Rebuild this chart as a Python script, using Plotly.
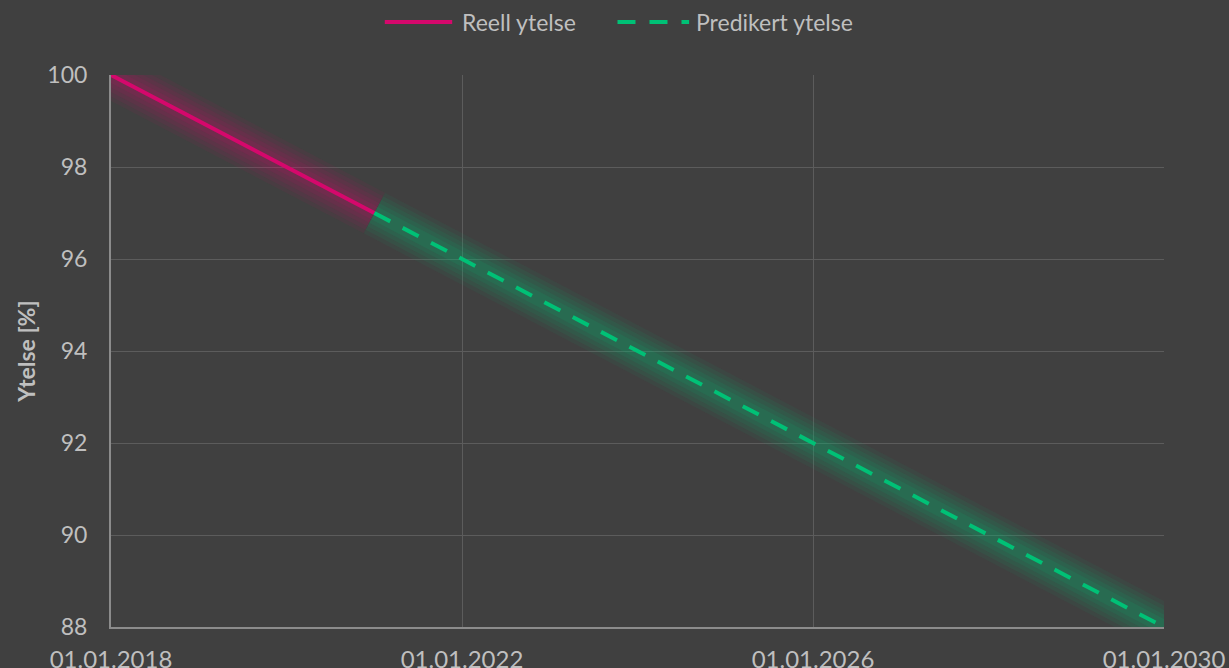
import plotly.graph_objects as go

# Data
real_dates = ["2018-01-01", "2019-01-01", "2020-01-01", "2021-01-01"]
real_values = [100, 99, 98, 97]
pred_dates = ["2021-01-01", "2022-01-01", "2023-01-01", "2024-01-01", "2025-01-01",
              "2026-01-01", "2027-01-01", "2028-01-01", "2029-01-01", "2030-01-01"]
pred_values = [97, 96, 95, 94, 93, 92, 91, 90, 89, 88]
series_names = ["Reell ytelse", "Predikert ytelse"]

PINK = "#D5086C"
GREEN = "#00C176"
BG = "#404040"
TXT = "#BFBFBF"
PINK_RGB = "213,8,108"
GREEN_RGB = "0,193,118"
DASH = "18px,14px"

fig = go.Figure()

# glow layers
for w, a in [(46, 0.06), (38, 0.07), (30, 0.08), (22, 0.09), (14, 0.10)]:
    fig.add_trace(go.Scatter(x=real_dates, y=real_values, mode="lines",
                             line=dict(color=f"rgba({PINK_RGB},{a})", width=w),
                             showlegend=False, hoverinfo="skip"))
    fig.add_trace(go.Scatter(x=pred_dates, y=pred_values, mode="lines",
                             line=dict(color=f"rgba({GREEN_RGB},{a})", width=w),
                             showlegend=False, hoverinfo="skip"))

fig.add_trace(go.Scatter(x=real_dates, y=real_values, mode="lines", name=series_names[0],
                         line=dict(color=PINK, width=4), showlegend=False))
fig.add_trace(go.Scatter(x=pred_dates, y=pred_values, mode="lines", name=series_names[1],
                         line=dict(color=GREEN, width=4, dash=DASH), showlegend=False))

# manual legend (paper coordinates)
ly = 1.096
fig.add_shape(type="line", xref="paper", yref="paper", x0=0.260, x1=0.324, y0=ly, y1=ly,
              line=dict(color=PINK, width=4))
fig.add_shape(type="line", xref="paper", yref="paper", x0=0.481, x1=0.549, y0=ly, y1=ly,
              line=dict(color=GREEN, width=4, dash=DASH))
fig.add_annotation(xref="paper", yref="paper", x=0.331, y=ly, text=series_names[0],
                   showarrow=False, xanchor="left", yanchor="middle",
                   font=dict(size=23, color=TXT))
fig.add_annotation(xref="paper", yref="paper", x=0.554, y=ly, text=series_names[1],
                   showarrow=False, xanchor="left", yanchor="middle",
                   font=dict(size=23, color=TXT))

fig.update_layout(
    width=1229, height=668,
    paper_bgcolor=BG, plot_bgcolor=BG,
    margin=dict(l=111, r=65, t=75, b=41, autoexpand=False),
    font=dict(family="Lato", color=TXT, size=23),
    showlegend=False,
    xaxis=dict(type="date", range=["2018-01-01", "2030-01-01"],
               tick0="2018-01-01", dtick="M48", tickformat="%d.%m.%Y",
               showgrid=True, gridcolor="#5c5c5c", gridwidth=1,
               showline=True, linecolor="#8c8c8c", linewidth=2,
               zeroline=False, ticks="", ticklabelstandoff=10,
               tickfont=dict(size=24, color=TXT)),
    yaxis=dict(range=[88, 100], dtick=2, tick0=88,
               showgrid=True, gridcolor="#5c5c5c", gridwidth=1,
               showline=True, linecolor="#8c8c8c", linewidth=2,
               zeroline=False, ticks="", ticklabelstandoff=17,
               tickfont=dict(size=23, color=TXT),
               title=dict(text="<b>Ytelse [%]</b>", font=dict(size=23, color=TXT), standoff=5)),
)

fig.write_html("out.html")
